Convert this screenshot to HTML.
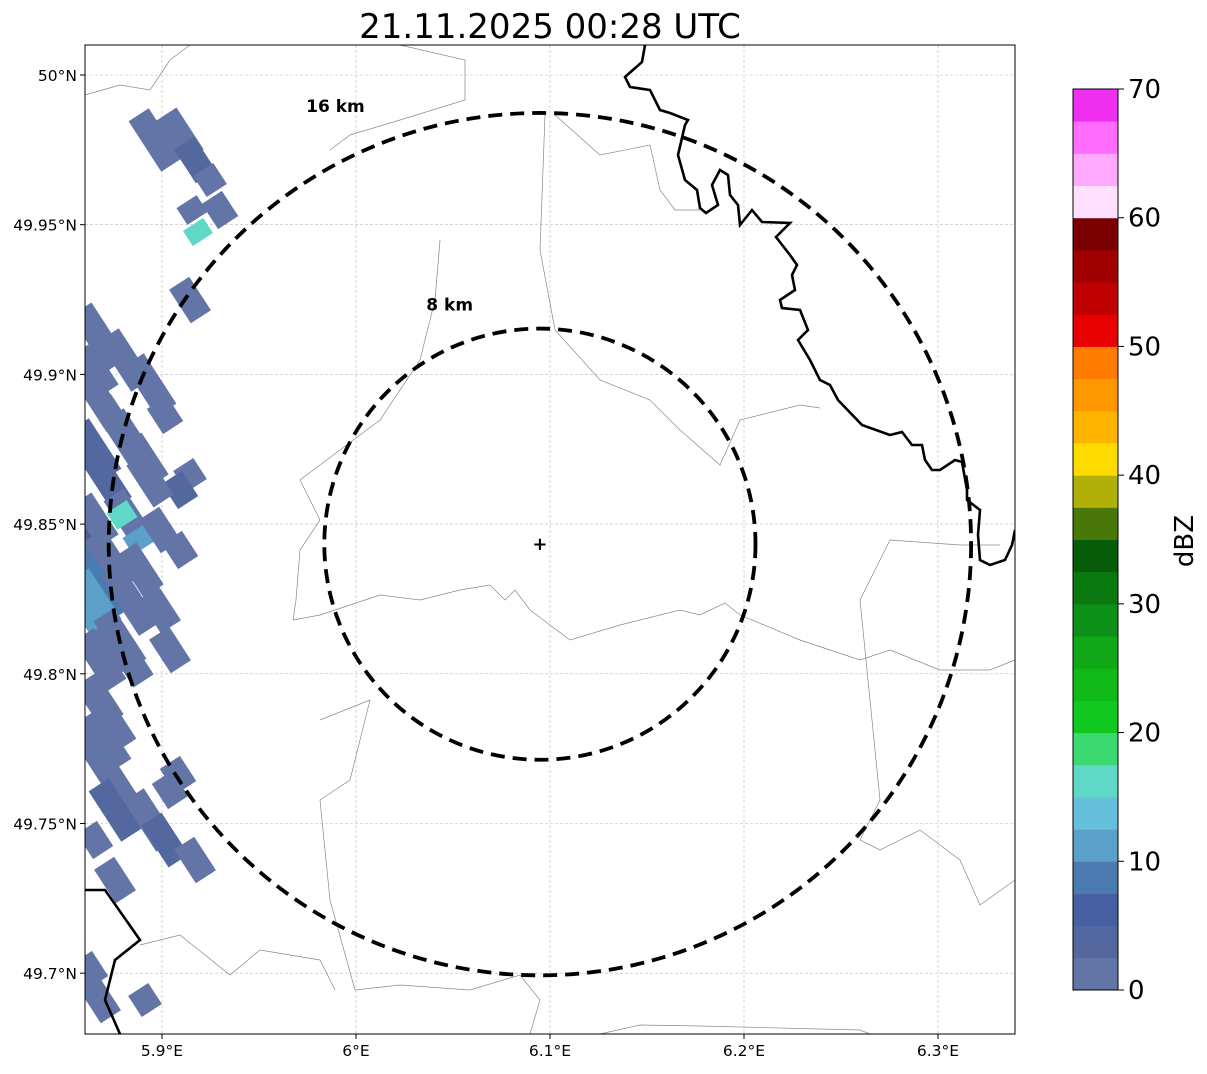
<!DOCTYPE html>
<html><head><meta charset="utf-8"><style>
body{margin:0;background:#fff;font-family:"Liberation Sans","DejaVu Sans",sans-serif}
svg text{font-family:"DejaVu Sans","Liberation Sans",sans-serif}
</style></head><body>
<svg id="chart" width="1207" height="1069" viewBox="0 0 1207 1069">
<text x="550" y="38" font-size="34" text-anchor="middle">21.11.2025 00:28 UTC</text>
<defs><clipPath id="mapclip"><rect x="85" y="45" width="930" height="989"/></clipPath></defs>
<g id="map" clip-path="url(#mapclip)"></g>
<rect x="85" y="45" width="930" height="989" fill="none" stroke="#000" stroke-width="1"/>
<g id="axes"></g>
<g id="cbar"></g>
</svg>
<script>
const NS="http://www.w3.org/2000/svg";
const lonTicks=[5.9,6.0,6.1,6.2,6.3];
const lonLabels=["5.9°E","6°E","6.1°E","6.2°E","6.3°E"];
const latTicks=[50.0,49.95,49.9,49.85,49.8,49.75,49.7];
const latLabels=["50°N","49.95°N","49.9°N","49.85°N","49.8°N","49.75°N","49.7°N"];
const ringKm=[8,16];
const radarLon=6.0948, radarLat=49.8433;
const cbarColors=["#6374a6","#5468a0","#4660a3","#4a7ab0","#5aa0c8","#64c0dc","#60d8c8","#3cd870","#10c820","#10b818","#10a818","#0c9018","#0a7a10","#065c08","#4a7808","#b0b008","#ffdc00","#ffb400","#ff9800","#ff7c00","#e80000","#c00000","#a00000","#7a0000","#ffe0ff","#ffaaff","#ff6cff","#f030f0"];
const cbarTicks=[0,10,20,30,40,50,60,70];
const echoX=[155,180,195,210,220,192,198,190,100,125,150,165,100,120,145,190,180,100,130,160,180,122,138,95,100,130,160,170,95,100,130,100,100,120,150,165,195,170,178,95,100,145,90,95,95,95,95,95,110,110,115,110,140,150,120,105,115,130];
const echoY=[140,135,160,180,210,210,232,300,340,360,385,415,400,430,460,475,490,470,520,530,550,515,540,540,580,600,610,650,620,660,660,700,760,790,820,840,860,790,775,840,1000,1000,970,330,370,450,520,600,720,650,880,560,570,480,640,740,810,440];
const echoLen=[60,50,40,25,30,20,18,40,60,60,60,30,60,70,50,25,30,80,60,40,30,20,20,80,80,70,40,40,60,60,50,50,80,60,60,50,40,30,30,30,40,25,30,50,50,60,50,60,60,50,40,60,50,50,60,60,60,60];
const echoDbz=[1,1,3,1,1,1,16,1,1,1,1,1,1,1,1,1,3,4,1,1,1,16,12,6,9,1,1,1,11,1,1,1,1,1,1,4,1,1,1,1,1,1,1,1,1,3,1,10,1,1,1,1,1,1,1,1,3,1];

const X=lon=>162+(lon-5.9)*1940;
const Y=lat=>75+(50-lat)*2994;
function el(t,a,p){const e=document.createElementNS(NS,t);for(const k in a)e.setAttribute(k,a[k]);(p||document.getElementById('chart')).appendChild(e);return e;}
function colorFor(v){return cbarColors[Math.max(0,Math.min(27,Math.floor(v/2.5)))];}
const map=document.getElementById('map');
lonTicks.forEach(v=>{const g=el('line',{x1:X(v),x2:X(v),y1:45,y2:1034,stroke:'#bbb','stroke-width':0.6,'stroke-dasharray':'3,2'},map);

});
latTicks.forEach(v=>{const g=el('line',{x1:85,x2:1015,y1:Y(v),y2:Y(v),stroke:'#bbb','stroke-width':0.6,'stroke-dasharray':'3,2'},map);

});
for(let i=0;i<echoX.length;i++){
 const lon=5.9+(echoX[i]-162)/1940, lat=50-(echoY[i]-75)/2994;
 const cx=X(lon), cy=Y(lat), L=echoLen[i];
 const r=el('rect',{x:cx-L/2,y:cy-12,width:L,height:24,fill:colorFor(echoDbz[i]),transform:`rotate(57 ${cx} ${cy})`},map);
 
 
}
const borders=[
[[293,620],[320,615],[380,595],[420,600],[460,590],[490,585],[505,600],[515,590],[530,610],[570,640],[620,625],[680,610],[700,615],[725,603],[740,615],[800,640],[860,660],[890,650],[940,670],[990,670],[1015,660]],
[[545,115],[540,250],[555,330],[600,380],[650,400],[680,430],[720,465],[740,420],[800,405],[820,408]],
[[440,240],[435,300],[420,360],[380,420],[340,450],[300,480],[320,520],[300,550],[296,600],[293,620]],
[[320,720],[345,710],[370,700],[350,780],[320,800],[330,900],[355,990],[400,985],[470,990],[520,975],[540,1000],[530,1034]],
[[890,540],[960,545],[1000,545]],[[890,540],[860,600],[870,700],[880,800],[860,840],[880,850],[920,830],[960,860],[980,905],[1015,880]],
[[85,95],[120,85],[150,90],[170,60],[190,45]],[[400,45],[465,60],[465,100],[400,120],[350,135],[330,150]],
[[555,115],[600,155],[650,145],[660,190],[675,210],[700,210]],[[600,1034],[640,1025],[700,1026],[860,1030],[870,1034]],
[[140,945],[180,935],[230,975],[260,950],[320,960],[335,990]]];
borders.forEach(b=>{const p=el('polyline',{points:b.map(q=>q.join(',')).join(' '),fill:'none',stroke:'#888','stroke-width':0.7},map);

});
const river=[[645,45],[642,62],[625,77],[630,87],[650,90],[660,110],[670,113],[688,120],[685,125],[678,155],[685,180],[697,190],[700,208],[706,213],[718,205],[712,185],[720,170],[728,175],[730,195],[738,205],[740,225],[752,210],[762,222],[790,223],[776,237],[790,255],[797,265],[792,275],[795,290],[780,300],[782,308],[800,310],[808,330],[798,340],[810,360],[820,380],[830,385],[838,400],[862,425],[890,435],[902,432],[912,445],[922,445],[925,460],[932,470],[940,470],[955,460],[962,462],[967,490],[967,500],[980,510],[978,535],[980,560],[990,565],[1005,560],[1012,545],[1015,530]];
const rv=el('polyline',{points:river.map(q=>q.join(',')).join(' '),fill:'none',stroke:'#000','stroke-width':2.6},map);


const sw=el('polyline',{points:'85,890 105,890 140,940 115,960 105,1000 120,1034',fill:'none',stroke:'#000','stroke-width':2.6},map);


const cx=X(radarLon), cy=Y(radarLat);
ringKm.forEach(k=>{const r=k*26.95;
 const c=el('circle',{cx:cx,cy:cy,r:r,fill:'none',stroke:'#000','stroke-width':3.8,'stroke-dasharray':'14,8'},map);
 
 
 const t=el('text',{x:cx-r*0.4+(k==8?-4:-32),y:cy-r*1.0+(k==8?-18:-1),'font-size':17,'font-weight':'bold','text-anchor':'middle'},map);
 t.textContent=k+' km';
 
 });
const mk=el('text',{x:cx,y:cy+6,'font-size':18,'font-weight':'bold','text-anchor':'middle'},map);mk.textContent='+';


const ax=document.getElementById('axes');
lonTicks.forEach((v,i)=>{el('line',{x1:X(v),x2:X(v),y1:1034,y2:1039,stroke:'#000'},ax);
 const t=el('text',{x:X(v),y:1056,'font-size':15.5,'text-anchor':'middle'},ax);t.textContent=lonLabels[i];
 
 });
latTicks.forEach((v,i)=>{el('line',{x1:80,x2:85,y1:Y(v),y2:Y(v),stroke:'#000'},ax);
 const t=el('text',{x:77,y:Y(v)+6,'font-size':15.5,'text-anchor':'end'},ax);t.textContent=latLabels[i];
 
 });
const cb=document.getElementById('cbar');
const cbTop=89,cbBot=990,cbH=cbBot-cbTop;
const bh=cbH/cbarColors.length;
cbarColors.forEach((c,i)=>{const r=el('rect',{x:1073,y:cbBot-(i+1)*bh,width:45,height:bh+0.5,fill:c},cb);
 
 });
el('rect',{x:1073,y:cbTop,width:45,height:cbH,fill:'none',stroke:'#000','stroke-width':1},cb);
cbarTicks.forEach(v=>{const y=cbBot-v/70*cbH;el('line',{x1:1118,x2:1124,y1:y,y2:y,stroke:'#000'},cb);
 const t=el('text',{x:1128,y:y+9,'font-size':26},cb);t.textContent=v;
 
 });
const lab=el('text',{x:1193,y:541,'font-size':26,'text-anchor':'middle',transform:'rotate(-90 1193 541)'},cb);lab.textContent='dBZ';


</script>
</body></html>
